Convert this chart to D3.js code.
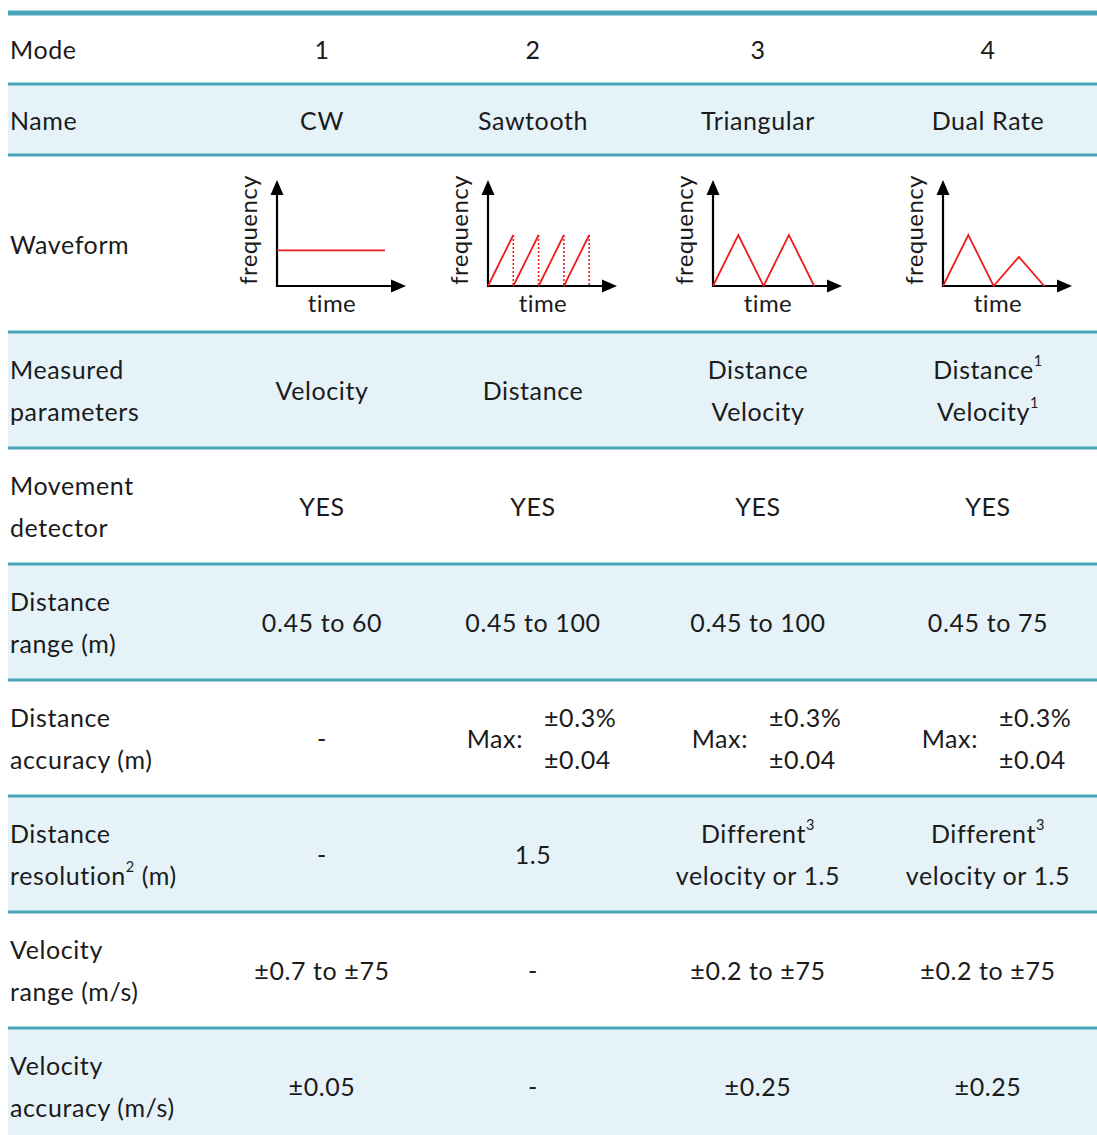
<!DOCTYPE html>
<html><head><meta charset="utf-8">
<script src="https://cdn.jsdelivr.net/npm/d3@7"></script>
<style>
html,body{margin:0;padding:0;background:#fff;}
svg{display:block;}
</style></head>
<body>
<svg id="chart" width="1097" height="1135"></svg>
<script>
// ---------- data ----------
const modes = ["1", "2", "3", "4"];
const names = ["CW", "Sawtooth", "Triangular", "Dual Rate"];
const rowLabels = [
  ["Mode"], ["Name"], ["Waveform"],
  ["Measured", "parameters"],
  ["Movement", "detector"],
  ["Distance", "range (m)"],
  ["Distance", "accuracy (m)"],
  ["Distance", "resolution|2| (m)"],
  ["Velocity", "range (m/s)"],
  ["Velocity", "accuracy (m/s)"]
];
const measured = [["Velocity"], ["Distance"], ["Distance", "Velocity"], ["Distance|1|", "Velocity|1|"]];
const movement = ["YES", "YES", "YES", "YES"];
const distanceRange = ["0.45 to 60", "0.45 to 100", "0.45 to 100", "0.45 to 75"];
const distanceAccuracy = [null, ["±0.3%", "±0.04"], ["±0.3%", "±0.04"], ["±0.3%", "±0.04"]];
const distanceResolution = [["-"], ["1.5"], ["Different|3|", "velocity or 1.5"], ["Different|3|", "velocity or 1.5"]];
const velocityRange = ["±0.7 to ±75", "-", "±0.2 to ±75", "±0.2 to ±75"];
const velocityAccuracy = ["±0.05", "-", "±0.25", "±0.25"];
// waveform points (time, frequency)
const waveCW = [[0, 0.7], [4.27, 0.7]];
const waveSaw = [[0, 0], [1, 1], [1, 0], [2, 1], [2, 0], [3, 1], [3, 0], [4, 1], [4, 0]];
const waveTri = [[0, 0], [1, 1], [2, 0], [3, 1], [4, 0]];
const waveDual = [[0, 0], [1, 1], [2, 0], [3, 0.57], [4, 0]];
const waveforms = [waveCW, waveSaw, waveTri, waveDual];

// ---------- layout ----------
const W = 1097;
const left = 8;
const top0 = 13;
const rowHeights = [71, 71, 177, 116, 116, 116, 116, 116, 116, 116];
const colCenters = [322, 533, 758, 988];
const lineGap = 42;
const teal = "#4aa4b9";
const band = "#e5f3f9";
const ink = "#1b1b1b";
const FONT = "Lato, 'Noto Sans', sans-serif";
const FS = 25;
const LS = 0.6;

const svg = d3.select("#chart");
const rowTops = [];
let acc = top0;
rowHeights.forEach(h => { rowTops.push(acc); acc += h; });
const rowCenter = i => rowTops[i] + rowHeights[i] / 2;

// bands
svg.selectAll("rect.band").data(rowHeights).join("rect")
  .attr("class", "band")
  .attr("x", left).attr("width", W - left)
  .attr("y", (d, i) => rowTops[i]).attr("height", d => d)
  .attr("fill", (d, i) => i % 2 === 1 ? band : "#fff");

// separators
svg.selectAll("line.sep").data(rowTops).join("line")
  .attr("class", "sep")
  .attr("x1", left).attr("x2", W)
  .attr("y1", d => d).attr("y2", d => d)
  .attr("stroke", teal)
  .attr("stroke-width", (d, i) => i === 0 ? 5 : 3);

// text helper with |sup| support
function addText(g, str, x, y, anchor, size) {
  const fs = size || FS;
  const t = g.append("text")
    .attr("x", x).attr("y", y)
    .attr("text-anchor", anchor)
    .attr("dominant-baseline", "central")
    .attr("font-family", FONT)
    .attr("font-size", fs)
    .attr("letter-spacing", LS)
    .attr("fill", ink);
  const parts = str.split("|");
  let raised = false;
  parts.forEach((p, k) => {
    if (p === "") return;
    const ts = t.append("tspan").text(p);
    if (k % 2 === 1) {
      ts.attr("font-size", fs * 0.58).attr("dy", -9);
      raised = true;
    } else if (raised) {
      ts.attr("dy", 9);
      raised = false;
    }
  });
  return t;
}
function addLines(g, lines, x, cy, anchor) {
  const n = lines.length;
  lines.forEach((l, k) => addText(g, l, x, cy + (k - (n - 1) / 2) * lineGap, anchor));
}

const gText = svg.append("g");
rowLabels.forEach((lines, i) => addLines(gText, lines, 10, rowCenter(i), "start"));

function simpleRow(i, vals) {
  vals.forEach((v, c) => {
    const lines = Array.isArray(v) ? v : [v];
    addLines(gText, lines, colCenters[c], rowCenter(i), "middle");
  });
}
simpleRow(0, modes);
simpleRow(1, names);
simpleRow(3, measured);
simpleRow(4, movement);
simpleRow(5, distanceRange);
simpleRow(7, distanceResolution);
simpleRow(8, velocityRange);
simpleRow(9, velocityAccuracy);

distanceAccuracy.forEach((v, c) => {
  const cy = rowCenter(6);
  if (!v) { addText(gText, "-", colCenters[c], cy, "middle"); return; }
  addText(gText, "Max:", colCenters[c] - 10, cy, "end");
  v.forEach((l, k) => addText(gText, l, colCenters[c] + 11, cy + (k - 0.5) * lineGap, "start"));
});

// waveforms
const baseY = 286;
waveforms.forEach((pts, c) => {
  const ox = colCenters[c] - 45;
  const x = d3.scaleLinear().domain([0, 1]).range([ox, ox + 25.3]);
  const y = d3.scaleLinear().domain([0, 1]).range([baseY, baseY - 51]);
  const g = svg.append("g");
  const xEnd = ox + 129, yEnd = 180;
  g.append("line").attr("x1", ox).attr("x2", xEnd - 12).attr("y1", baseY).attr("y2", baseY)
    .attr("stroke", "#000").attr("stroke-width", 2.2);
  g.append("line").attr("x1", ox).attr("x2", ox).attr("y1", baseY + 1).attr("y2", yEnd + 12)
    .attr("stroke", "#000").attr("stroke-width", 2.2);
  g.append("path").attr("d", `M${xEnd},${baseY} L${xEnd - 15},${baseY - 6.5} L${xEnd - 15},${baseY + 6.5} Z`).attr("fill", "#000");
  g.append("path").attr("d", `M${ox},${yEnd} L${ox - 6.5},${yEnd + 15} L${ox + 6.5},${yEnd + 15} Z`).attr("fill", "#000");
  const line = d3.line().x(d => x(d[0])).y(d => y(d[1]));
  if (c === 1) {
    for (let k = 0; k + 1 < pts.length; k++) {
      const seg = [pts[k], pts[k + 1]];
      const dotted = pts[k][0] === pts[k + 1][0];
      g.append("path").attr("d", line(seg)).attr("fill", "none")
        .attr("stroke", "#ee1c1c").attr("stroke-width", dotted ? 1.6 : 1.8)
        .attr("stroke-dasharray", dotted ? "2,2" : null);
    }
  } else {
    g.append("path").attr("d", line(pts)).attr("fill", "none")
      .attr("stroke", "#ee1c1c").attr("stroke-width", 1.8);
  }
  g.append("text").attr("x", ox + 55).attr("y", 312)
    .attr("text-anchor", "middle").attr("font-family", FONT).attr("font-size", 24)
    .attr("letter-spacing", 0.4).attr("fill", ink)
    .text("time");
  g.append("text").attr("transform", `translate(${ox - 20},230) rotate(-90)`)
    .attr("text-anchor", "middle").attr("font-family", FONT).attr("font-size", 24)
    .attr("letter-spacing", 0.4).attr("fill", ink)
    .text("frequency");
});
</script>
</body></html>
